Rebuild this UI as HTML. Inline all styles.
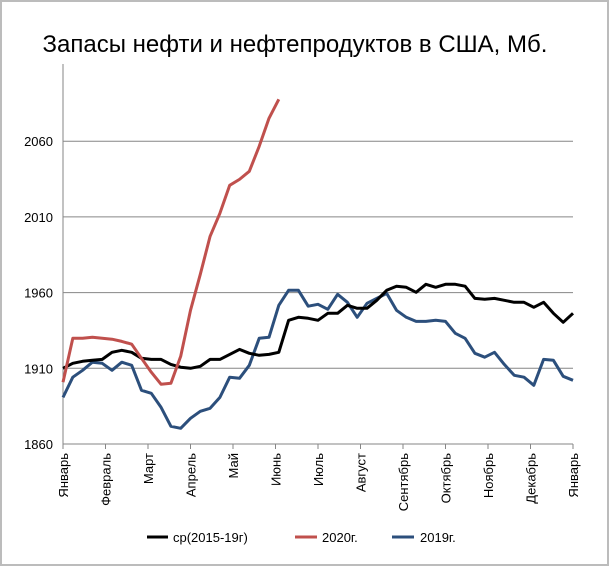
<!DOCTYPE html>
<html><head><meta charset="utf-8"><style>
body{margin:0;background:#fff;}
svg{display:block;font-family:"Liberation Sans","Noto Sans CJK SC",sans-serif;}
</style></head><body>
<svg id="c" width="610" height="567">
<rect x="1" y="1" width="607" height="564" fill="#fff" stroke="#bcbcbc" stroke-width="2"/>
<text x="295" y="52" font-size="24" text-anchor="middle" fill="#000">Запасы нефти и нефтепродуктов в США, Мб.</text>
<g id="grid"></g><g id="axes"></g><g id="series"></g>
<g>
<line x1="147" y1="537" x2="168" y2="537" stroke="#000" stroke-width="3"/>
<text x="173" y="542" font-size="13">ср(2015-19г)</text>
<line x1="295" y1="537" x2="317" y2="537" stroke="#c0504d" stroke-width="3"/>
<text x="322" y="542" font-size="13">2020г.</text>
<line x1="392" y1="537" x2="414" y2="537" stroke="#2c4f7c" stroke-width="3"/>
<text x="420" y="542" font-size="13">2019г.</text>
</g>
</svg>
<script>
const yTicks=[1860,1910,1960,2010,2060];
const months=["Январь","Февраль","Март","Апрель","Май","Июнь","Июль","Август","Сентябрь","Октябрь","Ноябрь","Декабрь","Январь"];
const avgValues=[1910,1913.3,1914.6,1915.3,1915.9,1920.6,1921.9,1920.6,1916.6,1915.9,1915.9,1912.6,1910.7,1910,1911.3,1915.9,1915.9,1919.2,1922.5,1919.9,1918.6,1919.2,1920.6,1941.7,1943.7,1943,1941.7,1946.3,1946.3,1951.6,1949.6,1949.6,1954.9,1961.5,1964.2,1963.5,1960.2,1965.5,1963.5,1965.5,1965.5,1964.2,1956.2,1955.6,1956.2,1954.9,1953.6,1953.6,1950.3,1953.6,1946.3,1940.4,1946.3];
const values2020=[1900.8,1929.8,1929.8,1930.5,1929.8,1929.2,1927.8,1925.9,1916.6,1907.4,1899.4,1900.1,1917.9,1948.3,1972.1,1997.2,2012.4,2030.9,2034.8,2040.1,2056.6,2075.1,2087.7];
const values2019=[1890.8,1904.1,1908.7,1914,1913.3,1908.7,1914,1912,1895.5,1893.5,1884.2,1871.7,1870.4,1877,1881.6,1883.6,1890.8,1904.1,1903.4,1912,1929.8,1930.5,1951.6,1961.5,1961.5,1951,1952.3,1949,1958.9,1953.6,1943.7,1952.9,1956.2,1959.5,1948.3,1943.7,1941,1941,1941.7,1941,1933.1,1929.8,1919.9,1917.3,1920.6,1912.6,1905.4,1904.1,1898.8,1915.9,1915.3,1904.7,1902.1];
const X0=63,X1=573,Y0=444,NS="http://www.w3.org/2000/svg";
const yScale=v=>Y0-(v-1860)*(75.7/50);
const xScale=i=>X0+i*(X1-X0)/52;
const mX=m=>X0+m*(X1-X0)/12;
function mk(t,a,p){const e=document.createElementNS(NS,t);for(const k in a)e.setAttribute(k,a[k]);p.appendChild(e);return e;}
const grid=document.getElementById('grid'),axes=document.getElementById('axes'),ser=document.getElementById('series');
yTicks.forEach(v=>{
 const y=yScale(v);
 const l=mk('line',{x1:X0,x2:X1,y1:y,y2:y,stroke:'#868686','stroke-width':1},grid);
 
 
 const t=mk('text',{x:53,y:y+5,'font-size':13,'text-anchor':'end'},axes);
 t.textContent=v;
 
 
});
const ax=mk('line',{x1:X0,x2:X0,y1:64,y2:Y0,stroke:'#868686'},axes);


months.forEach((m,i)=>{
 const x=mX(i);
 const tk=mk('line',{x1:x,x2:x,y1:Y0,y2:Y0+5,stroke:'#868686'},axes);
 
 
 const t=mk('text',{x:0,y:0,'font-size':13,'text-anchor':'end',transform:`translate(${x+5},${Y0+9}) rotate(-90)`},axes);
 t.textContent=m;
 
 
});
function line(vals,color,name){
 const d=vals.map((v,i)=>(i?'L':'M')+xScale(i).toFixed(1)+','+yScale(v).toFixed(1)).join('');
 const p=mk('path',{d:d,fill:'none',stroke:color,'stroke-width':3,'stroke-linejoin':'round'},ser);
 
 
}
line(values2019,'#2c4f7c','series-2019');
line(avgValues,'#000','series-avg-2015-19');
line(values2020,'#c0504d','series-2020');
</script>
</body></html>
